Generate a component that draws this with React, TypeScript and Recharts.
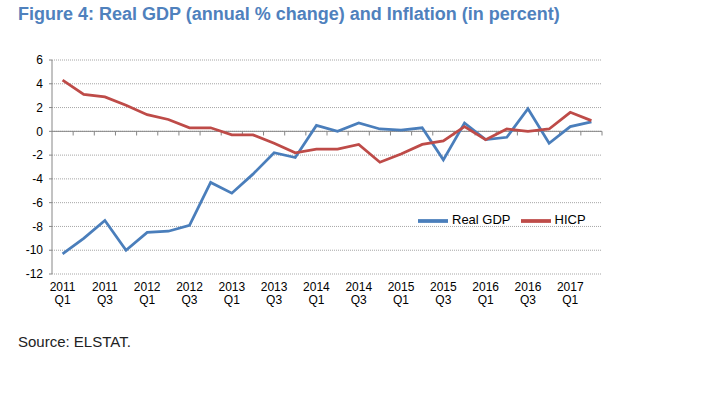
import { LineChart, Line, XAxis, YAxis, CartesianGrid, Legend, ReferenceLine } from 'recharts';

const quarters = [
  '2011 Q1', '2011 Q2', '2011 Q3', '2011 Q4',
  '2012 Q1', '2012 Q2', '2012 Q3', '2012 Q4',
  '2013 Q1', '2013 Q2', '2013 Q3', '2013 Q4',
  '2014 Q1', '2014 Q2', '2014 Q3', '2014 Q4',
  '2015 Q1', '2015 Q2', '2015 Q3', '2015 Q4',
  '2016 Q1', '2016 Q2', '2016 Q3', '2016 Q4',
  '2017 Q1', '2017 Q2',
];

const realGdp = [
  -10.3, -9.0, -7.5, -10.0, -8.5, -8.4, -7.9, -4.3, -5.2, -3.6, -1.8, -2.2, 0.5,
  0.0, 0.7, 0.2, 0.1, 0.3, -2.4, 0.7, -0.7, -0.5, 1.9, -1.0, 0.4, 0.8,
];

const hicp = [
  4.3, 3.1, 2.9, 2.2, 1.4, 1.0, 0.3, 0.3, -0.3, -0.3, -1.0, -1.8, -1.5,
  -1.5, -1.1, -2.6, -1.9, -1.1, -0.8, 0.4, -0.7, 0.2, 0.0, 0.2, 1.6, 0.9,
];

const yTicks = [-12, -10, -8, -6, -4, -2, 0, 2, 4, 6];

const data = quarters.map((q, i) => ({ idx: i, label: q, gdp: realGdp[i], hicp: hicp[i] }));
const xTicks = quarters.map((_, i) => i).filter(i => i % 2 === 0);
const boundaries = quarters.map((_, i) => i + 0.5);

const FONT = '"Liberation Sans", Arial, sans-serif';

const QuarterTick = ({ x, y, payload }: any) => {
  const [year, q] = quarters[payload.value].split(' ');
  return (
    <text x={x} y={y} textAnchor="middle" fontSize={12} fill="#000" fontFamily={FONT}>
      <tspan x={x} dy={17}>{year}</tspan>
      <tspan x={x} dy={13}>{q}</tspan>
    </text>
  );
};

export default function App() {
  return (
    <div style={{ position: 'absolute', left: 0, top: 0, width: 711, height: 396, background: '#fff', fontFamily: FONT }}>
      <div style={{ position: 'absolute', left: 18, top: 4, fontSize: 18, fontWeight: 'bold', color: '#4f81bd' }}>
        Figure 4: Real GDP (annual % change) and Inflation (in percent)
      </div>
      <div style={{ position: 'absolute', top: 0, left: 0 }}>
        <LineChart width={711} height={330} data={data} margin={{ top: 60, right: 109, left: 0, bottom: 16 }}>
          <CartesianGrid vertical={false} stroke="#a6a6a6" strokeDasharray="1 1" />
          <XAxis
            type="number"
            dataKey="idx"
            domain={[-0.5, 25.5]}
            ticks={xTicks}
            interval={0}
            axisLine={false}
            tickLine={false}
            tickSize={0}
            tickMargin={0}
            height={40}
            tick={<QuarterTick />}
          />
          <YAxis
            domain={[-12, 6]}
            ticks={yTicks}
            interval={0}
            width={52}
            tick={{ fontSize: 12, fill: '#000', fontFamily: FONT }}
            axisLine={{ stroke: '#868686' }}
            tickLine={{ stroke: '#868686' }}
            tickSize={3}
            tickMargin={6}
          />
          <ReferenceLine y={0} stroke="#868686" strokeWidth={1} />
          {boundaries.map(b => (
            <ReferenceLine
              key={b}
              segment={[{ x: b, y: 0 }, { x: b, y: -0.35 }]}
              stroke="#868686"
              strokeWidth={1}
            />
          ))}
          <Legend
            layout="horizontal"
            verticalAlign="middle"
            align="center"
            iconType="plainline"
            iconSize={30}
            itemSorter="dataKey"
            wrapperStyle={{ position: 'absolute', left: 418, top: 206, width: 'auto', fontSize: 13 }}
            formatter={(value: string) => <span style={{ color: '#000', fontFamily: FONT }}>{value}</span>}
          />
          <Line
            name="Real GDP"
            dataKey="gdp"
            stroke="#4a7ebb"
            strokeWidth={2.75}
            dot={false}
            isAnimationActive={false}
          />
          <Line
            name="HICP"
            dataKey="hicp"
            stroke="#be4b48"
            strokeWidth={2.75}
            dot={false}
            isAnimationActive={false}
          />
        </LineChart>
      </div>
      <div style={{ position: 'absolute', left: 18, top: 333, fontSize: 15, color: '#222' }}>Source: ELSTAT.</div>
    </div>
  );
}
